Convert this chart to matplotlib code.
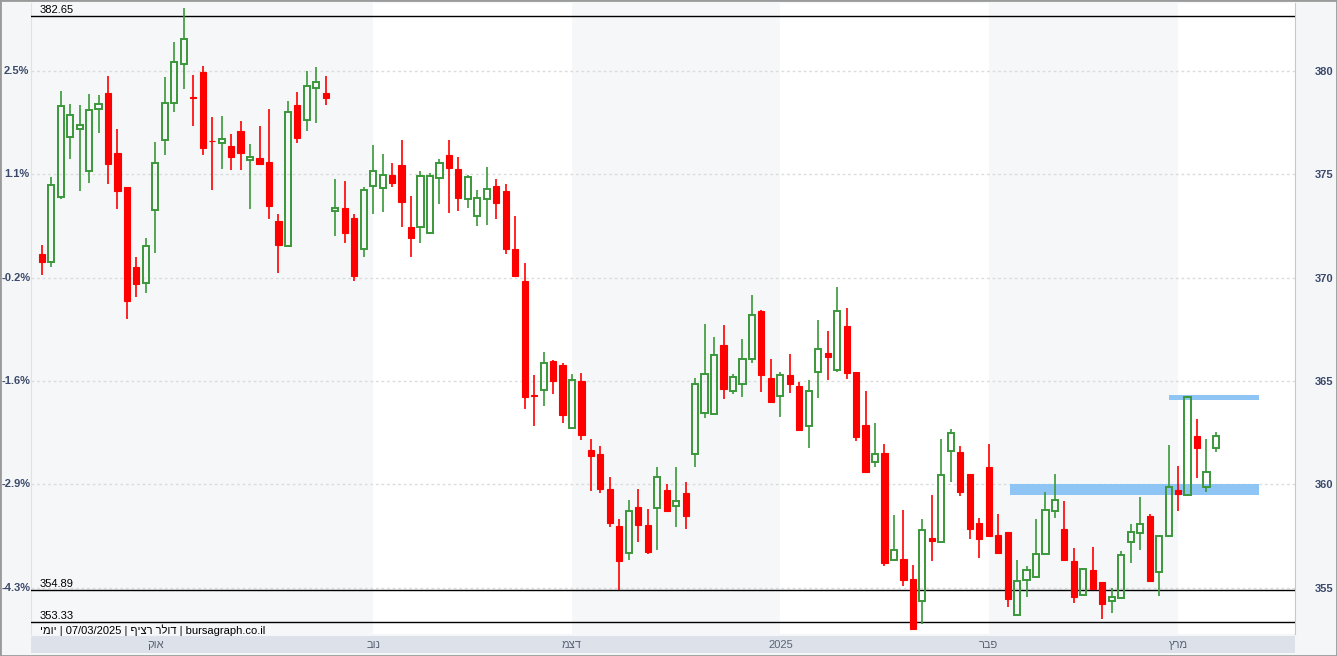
import matplotlib
matplotlib.use("Agg")
import matplotlib.pyplot as plt
import matplotlib.transforms as mtransforms
from matplotlib.patches import Rectangle
import numpy as np

plt.rcParams['font.family'] = ['Liberation Sans', 'DejaVu Sans']

# daily candles (USD/ILS, mid Sep 2024 - 07/03/2025)
opens = [371.15, 370.78, 373.92, 376.82, 377.18, 375.16, 378.16, 378.92, 376.02, 374.37,
         370.52, 369.73, 373.27, 376.66, 378.46, 380.35, 378.72, 379.95, 376.61, 376.52,
         376.37, 377.10, 375.68, 375.79, 375.60, 372.74, 371.53, 378.35, 377.63, 379.19,
         378.95, 373.23, 373.37, 372.89, 371.37, 374.45, 374.34, 374.97, 375.45, 372.44,
         372.47, 372.16, 374.82, 375.93, 375.26, 373.81, 372.98, 373.81, 374.43, 374.19,
         371.37, 369.84, 364.32, 364.57, 365.97, 365.78, 362.72, 365.01, 361.67, 361.47,
         359.78, 357.99, 356.70, 358.91, 358.04, 358.88, 359.73, 358.98, 359.59, 361.48,
         363.47, 363.42, 366.75, 364.52, 364.86, 366.07, 368.39, 365.14, 364.30, 365.28,
         364.76, 362.83, 365.46, 366.36, 365.54, 367.67, 365.44, 362.88, 361.10, 361.54,
         356.35, 356.40, 355.43, 354.37, 357.40, 357.21, 361.62, 361.59, 360.51, 358.12,
         360.85, 357.56, 357.70, 353.69, 355.38, 355.54, 356.64, 358.73, 357.85, 356.30,
         354.66, 355.87, 355.27, 354.37, 354.51, 357.22, 357.64, 358.48, 355.79, 357.52,
         359.74, 359.49, 362.35, 359.88, 361.78]
highs = [371.58, 374.88, 379.04, 378.40, 378.34, 378.87, 378.84, 379.75, 377.18, 374.40,
         370.99, 371.91, 376.55, 379.69, 381.38, 383.04, 379.79, 380.24, 377.77, 377.82,
         376.95, 377.58, 376.47, 377.34, 378.16, 373.08, 378.55, 378.98, 380.00, 380.19,
         379.75, 374.77, 374.68, 373.08, 374.40, 376.42, 375.98, 375.55, 376.66, 373.95,
         375.16, 375.05, 375.74, 376.66, 375.82, 374.97, 374.24, 375.35, 374.77, 374.52,
         372.98, 370.70, 365.30, 366.39, 366.00, 365.89, 365.35, 365.39, 362.20, 361.86,
         360.36, 358.33, 359.25, 359.78, 358.81, 360.86, 360.03, 360.86, 360.12, 365.14,
         367.76, 367.12, 367.71, 365.33, 367.02, 369.17, 368.44, 366.07, 365.46, 366.31,
         364.97, 365.05, 367.95, 367.42, 369.57, 368.54, 365.44, 364.52, 362.99, 361.96,
         358.53, 358.77, 356.11, 358.33, 359.49, 362.20, 362.67, 361.88, 360.51, 358.38,
         361.96, 358.57, 357.70, 356.35, 356.06, 358.33, 359.65, 360.51, 359.20, 356.94,
         355.95, 356.98, 355.30, 354.98, 356.77, 358.09, 359.40, 358.56, 357.55, 361.91,
         360.90, 364.28, 363.17, 362.20, 362.55]
lows = [370.13, 370.53, 373.81, 375.73, 374.21, 374.60, 377.01, 374.52, 373.31, 367.99,
        369.05, 369.27, 371.21, 375.93, 378.03, 379.13, 377.35, 375.93, 374.24, 375.26,
        375.21, 375.21, 373.32, 375.50, 372.84, 370.24, 371.50, 376.53, 377.11, 377.50,
        378.35, 372.03, 371.69, 369.86, 371.02, 373.07, 373.19, 374.40, 372.47, 370.99,
        371.69, 372.10, 373.58, 373.14, 373.24, 373.39, 372.52, 372.56, 372.85, 371.13,
        370.05, 363.64, 362.84, 363.81, 364.38, 362.99, 362.70, 362.17, 359.70, 359.60,
        357.96, 354.90, 356.35, 357.23, 356.64, 356.83, 358.70, 357.96, 357.85, 360.83,
        363.23, 363.37, 364.15, 364.36, 364.22, 365.89, 364.49, 363.98, 363.28, 364.44,
        362.59, 361.75, 364.17, 365.05, 365.43, 365.09, 362.12, 360.60, 360.86, 356.07,
        356.30, 355.11, 352.96, 353.24, 356.32, 357.20, 360.14, 359.46, 357.35, 356.43,
        357.48, 356.64, 354.09, 353.69, 354.57, 355.50, 356.60, 358.40, 356.32, 354.28,
        354.65, 354.90, 353.50, 353.80, 354.50, 356.22, 356.83, 355.30, 354.62, 357.50,
        358.73, 359.47, 360.33, 359.65, 361.59]
closes = [370.78, 374.48, 378.30, 377.87, 377.38, 378.11, 378.40, 375.51, 374.21, 368.89,
          369.71, 371.53, 375.56, 378.46, 380.42, 381.56, 378.71, 376.29, 376.60, 376.69,
          375.85, 376.05, 375.82, 375.51, 373.48, 371.60, 378.03, 376.77, 379.29, 379.48,
          378.70, 373.36, 372.18, 370.10, 374.24, 375.18, 374.98, 374.57, 373.68, 371.94,
          374.92, 374.93, 375.56, 375.32, 373.87, 374.88, 373.87, 374.28, 373.63, 371.37,
          370.10, 364.25, 364.30, 365.89, 365.02, 363.36, 365.07, 362.41, 361.39, 359.80,
          358.15, 356.31, 358.73, 358.06, 356.75, 360.38, 358.73, 359.22, 358.49, 364.88,
          365.34, 366.26, 364.63, 365.20, 366.07, 368.21, 365.31, 364.00, 365.30, 364.88,
          362.64, 364.52, 366.55, 366.18, 368.39, 365.41, 362.31, 360.62, 361.49, 356.22,
          356.83, 355.38, 353.01, 357.80, 357.28, 360.46, 362.51, 359.65, 357.86, 357.35,
          357.52, 356.70, 354.46, 355.35, 355.87, 356.64, 358.77, 359.25, 356.35, 354.57,
          355.93, 354.95, 354.24, 354.57, 356.61, 357.70, 358.09, 355.35, 357.51, 359.89,
          359.56, 364.25, 361.78, 360.62, 362.35]

month_pos = [12, 35, 56, 78, 100, 120]
month_names = ["אוק", "נוב", "דצמ", "2025", "פבר", "מרץ"]

price_ticks = [355, 360, 365, 370, 375, 380]
pct_labels = ["-4.3%", "-2.9%", "-1.6%", "-0.2%", "1.1%", "2.5%"]

level_lines = [382.65, 354.89, 353.33]

# support / resistance zones: start candle, end candle, low, high
zone_start = [119, 102.3]
zone_end = [128.5, 128.5]
zone_low = [364.09, 359.49]
zone_high = [364.33, 360.02]

footer_parts = ["יומי", "07/03/2025", "דולר רציף", "bursagraph.co.il"]


def vis(s):
    # matplotlib has no bidi, flip hebrew runs
    if any('\u0590' <= ch <= '\u05ff' for ch in s):
        return s[::-1]
    return s


W, H = 1337, 656
fig = plt.figure(figsize=(W / 100, H / 100), dpi=100, facecolor='#f5f6f8')
ax = fig.add_axes([31 / W, (H - 634) / H, 1264 / W, 631 / H])
ax.set_facecolor('white')

n = len(opens)
x = np.arange(n)
o = np.array(opens)
h = np.array(highs)
l = np.array(lows)
c = np.array(closes)
up = c >= o

xmin, xmax = -1.13, 132.35
ax.set_xlim(xmin, xmax)
ax.set_ylim(352.77, 383.28)

# alternating month shading
edges = [xmin] + month_pos[1:] + [xmax]
for k in range(len(edges) - 1):
    if k % 2 == 0:
        ax.axvspan(edges[k], edges[k + 1], color='#f5f7f9', lw=0, zorder=0)

for p in price_ticks:
    ax.axhline(p, color='#dcdcdc', lw=1, ls=(0, (2, 2)), zorder=1)

for s, e, lo, hi in zip(zone_start, zone_end, zone_low, zone_high):
    ax.add_patch(Rectangle((s, lo), e - s, hi - lo, facecolor='#8ec5f5',
                           edgecolor='none', zorder=2))

for lv in level_lines:
    ax.axhline(lv, color='black', lw=1, zorder=3)
    ax.text(-0.2, lv + 0.05, f"{lv:.2f}", fontsize=8, va='bottom', ha='left', zorder=6)

green = '#3a983a'
red = '#ff0000'
w = 0.65

# wicks
dn = ~up
ax.vlines(x[dn], l[dn], h[dn], color=red, lw=1.2, zorder=4)
ax.vlines(x[up], l[up], o[up], color=green, lw=1.2, zorder=4)
ax.vlines(x[up], c[up], h[up], color=green, lw=1.2, zorder=4)

# bodies
ax.bar(x[dn], (o - c)[dn], bottom=c[dn], width=w, color=red,
       edgecolor=red, lw=0.8, zorder=5)
ax.bar(x[up], (c - o)[up], bottom=o[up], width=w, facecolor='none',
       edgecolor=green, lw=1.4, zorder=5)

ax.set_yticks(price_ticks)
ax.set_yticklabels([str(p) for p in price_ticks])
ax.yaxis.tick_right()
ax.tick_params(axis='y', length=0, pad=14, labelsize=8, labelcolor='#3b4a6b')
for t in ax.get_yticklabels():
    t.set_fontweight('bold')
ax.set_xticks([])

trans = mtransforms.blended_transform_factory(ax.transAxes, ax.transData)
for p, lab in zip(price_ticks, pct_labels):
    ax.text(-0.0115, p, lab, transform=trans, ha='center', va='center',
            fontsize=8, color='#3b4a6b', fontweight='bold')

footer = " | ".join(vis(s) for s in footer_parts)
ax.text(-0.2, 353.33 - 0.08, footer, fontsize=8, va='top', ha='left', zorder=6)

for side in ['top', 'bottom']:
    ax.spines[side].set_visible(False)
ax.spines['left'].set_color('#e2e2e2')
ax.spines['right'].set_color('#c8c8c8')

# date band
bx = fig.add_axes([31 / W, 3 / H, 1264 / W, 17 / H], sharex=ax)
bx.set_facecolor('#dde2ea')
bx.set_yticks([])
bx.set_ylim(0, 1)
bx.tick_params(axis='x', length=0, labelbottom=False)
for s in bx.spines.values():
    s.set_visible(False)
for p, m in zip(month_pos, month_names):
    bx.text(p, 0.5, vis(m), ha='center', va='center', fontsize=8, color='#5a6272')

fig.patches.append(Rectangle((0, 0), 1, 1, transform=fig.transFigure, fill=False,
                             edgecolor='#9a9a9a', lw=2))

fig.savefig("out.png", dpi=100, facecolor=fig.get_facecolor())
